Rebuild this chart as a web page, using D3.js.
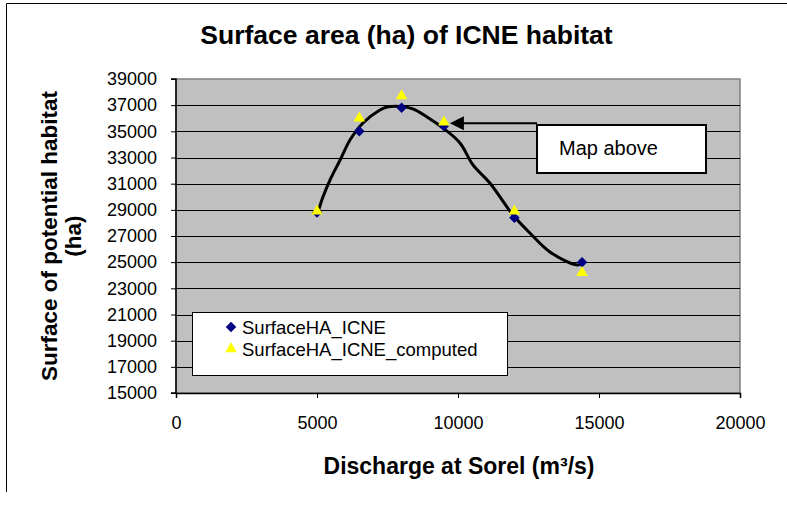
<!DOCTYPE html>
<html>
<head>
<meta charset="utf-8">
<script src="https://cdn.jsdelivr.net/npm/d3@7"></script>
<style>
  html, body { margin: 0; padding: 0; background: #fff; }
  svg { display: block; font-family: "Liberation Sans", Arial, sans-serif; }
</style>
</head>
<body>
<svg id="chart" width="787" height="508"></svg>
<script>
// ---- data ----
const discharge = [5000, 6500, 8000, 9500, 12000, 14400];
const surfaceICNE = [28800, 35000, 36800, 35400, 28400, 25000];
const surfaceComputed = [28900, 36000, 37700, 35700, 28900, 24200];
// fitted trend curve
const curveX = [5025, 5210, 5460, 5820, 6170, 6630, 7230, 7480, 8000, 8400, 8900, 9470, 10070, 10530, 11130, 11950, 12550, 13260, 14220, 14430];
const curveY = [28740, 29980, 31280, 32810, 34340, 35640, 36630, 36860, 36900, 36710, 36100, 35250, 34110, 32430, 31050, 28600, 27230, 25780, 24780, 24940];
const xTicks = [0, 5000, 10000, 15000, 20000];
const yTicks = [15000, 17000, 19000, 21000, 23000, 25000, 27000, 29000, 31000, 33000, 35000, 37000, 39000];
const seriesNames = ["SurfaceHA_ICNE", "SurfaceHA_ICNE_computed"];
const titleText = "Surface area (ha) of ICNE habitat";
const yTitleLines = ["Surface of potential habitat", "(ha)"];
const xTitleText = "Discharge at Sorel (m\u00B3/s)";
const noteText = "Map above";
const noteTarget = [9500, 35700];

// ---- layout ----
const svg = d3.select("#chart");
const plot = { left: 176, right: 740, top: 79, bottom: 393 };

// outer chart border (partial, as in reference)
svg.append("path")
  .attr("d", "M6.5,492 V3.5 H787")
  .attr("fill", "none").attr("stroke", "#000").attr("stroke-width", 1);

const x = d3.scaleLinear().domain([0, 20000]).range([plot.left, plot.right]);
const y = d3.scaleLinear().domain([15000, 39000]).range([plot.bottom, plot.top]);

// plot background
svg.append("rect")
  .attr("x", plot.left).attr("y", plot.top)
  .attr("width", plot.right - plot.left).attr("height", plot.bottom - plot.top)
  .attr("fill", "#C0C0C0").attr("stroke", "#808080").attr("stroke-width", 1.5);

// gridlines
svg.append("g").selectAll("line")
  .data(yTicks.filter(v => v > 15000 && v < 39000))
  .join("line")
  .attr("x1", plot.left).attr("x2", plot.right)
  .attr("y1", d => Math.round(y(d)) + 0.5).attr("y2", d => Math.round(y(d)) + 0.5)
  .attr("stroke", "#000").attr("stroke-width", 1);

// axes
const yAxis = d3.axisLeft(y).tickValues(yTicks).tickSize(5).tickPadding(14).tickFormat(d3.format("d"));
const gy = svg.append("g").attr("transform", `translate(${plot.left},0)`).call(yAxis);
const xAxis = d3.axisBottom(x).tickValues(xTicks).tickSize(5).tickPadding(18).tickFormat(d3.format("d"));
const gx = svg.append("g").attr("transform", `translate(0,${plot.bottom})`).call(xAxis);
[gx, gy].forEach(g => {
  g.select(".domain").attr("stroke", "#000").attr("stroke-width", 1.5);
  g.selectAll(".tick line").attr("stroke", "#000");
  g.selectAll(".tick text").attr("fill", "#000").style("font-size", "18px")
    .style("font-family", '"Liberation Sans", Arial, sans-serif');
});
gy.select(".domain").attr("d", `M-5,${plot.top}H0V${plot.bottom}H-5`);

// curve
const curvePts = curveX.map((v, i) => [v, curveY[i]]);
svg.append("path")
  .datum(curvePts)
  .attr("d", d3.line().x(d => x(d[0])).y(d => y(d[1])).curve(d3.curveCatmullRom.alpha(0.5)))
  .attr("fill", "none").attr("stroke", "#000").attr("stroke-width", 3)
  .attr("stroke-linejoin", "round");

// markers
const diamond = d3.symbol().type(d3.symbolDiamond2).size(70);
const triangle = d3.symbol().type(d3.symbolTriangle2).size(95);
svg.append("g").selectAll("path")
  .data(discharge.map((v, i) => [v, surfaceICNE[i]]))
  .join("path")
  .attr("transform", d => `translate(${x(d[0])},${y(d[1])})`)
  .attr("d", diamond).attr("fill", "#000080");
svg.append("g").selectAll("path")
  .data(discharge.map((v, i) => [v, surfaceComputed[i]]))
  .join("path")
  .attr("transform", d => `translate(${x(d[0])},${y(d[1])})`)
  .attr("d", triangle).attr("fill", "#FFFF00");

// legend
const lg = svg.append("g");
lg.append("rect").attr("x", 192.5).attr("y", 312.5).attr("width", 315).attr("height", 63)
  .attr("fill", "#fff").attr("stroke", "#000").attr("stroke-width", 1);
lg.append("path").attr("transform", "translate(231,327)").attr("d", diamond).attr("fill", "#000080");
lg.append("path").attr("transform", "translate(231,349)").attr("d", triangle).attr("fill", "#FFFF00");
lg.selectAll("text").data(seriesNames).join("text")
  .attr("x", 242).attr("y", (d, i) => 334 + i * 22)
  .style("font-size", "18.5px").attr("fill", "#000").text(d => d);

// annotation box + arrow
const ann = svg.append("g");
ann.append("line")
  .attr("x1", 537).attr("x2", x(noteTarget[0]) + 18)
  .attr("y1", y(noteTarget[1]) + 1).attr("y2", y(noteTarget[1]) + 1)
  .attr("stroke", "#000").attr("stroke-width", 2);
const tipX = x(noteTarget[0]) + 6, tipY = y(noteTarget[1]) + 1;
ann.append("path")
  .attr("d", `M${tipX},${tipY} L${tipX + 14},${tipY - 7} L${tipX + 14},${tipY + 7} Z`)
  .attr("fill", "#000");
ann.append("rect").attr("x", 537).attr("y", 125).attr("width", 169).attr("height", 48)
  .attr("fill", "#fff").attr("stroke", "#000").attr("stroke-width", 2);
ann.append("text").attr("x", 559).attr("y", 155).style("font-size", "20px").attr("fill", "#000").text(noteText);

// titles
svg.append("text").attr("x", 406.5).attr("y", 44).attr("text-anchor", "middle")
  .style("font-size", "26.5px").style("font-weight", "bold").text(titleText);
svg.append("text").attr("x", 459).attr("y", 474).attr("text-anchor", "middle")
  .style("font-size", "23px").style("font-weight", "bold").text(xTitleText);
svg.selectAll(".ytitle").data(yTitleLines).join("text").attr("class", "ytitle")
  .attr("transform", (d, i) => `translate(${57 + i * 24},236) rotate(-90)`)
  .attr("text-anchor", "middle")
  .style("font-size", "22.5px").style("font-weight", "bold").text(d => d);
</script>
</body>
</html>
